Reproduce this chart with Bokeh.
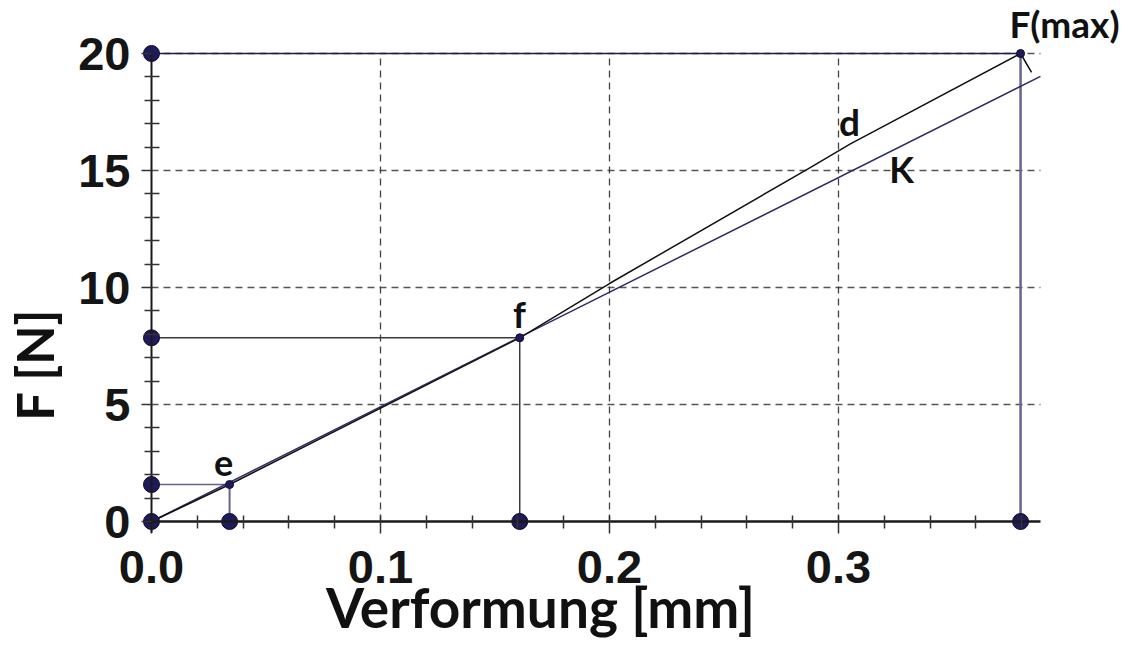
from bokeh.plotting import figure
from bokeh.models import LinearAxis, FixedTicker, PrintfTickFormatter, Range1d, Label
from bokeh.embed import file_html
from bokeh.resources import INLINE

# ---- data ----
x_major = [0.0, 0.1, 0.2, 0.3]
x_minor = [0.02, 0.04, 0.06, 0.08, 0.12, 0.14, 0.16, 0.18, 0.22, 0.24, 0.26, 0.28,
           0.32, 0.34, 0.36, 0.38]
y_major = [0, 5, 10, 15, 20]
y_minor = [1, 2, 3, 4, 6, 7, 8, 9, 11, 12, 13, 14, 16, 17, 18, 19]
x_axis_end = 0.3882

# measured curve d (deformation [mm], force [N])
d_x = [0.0, 0.0341, 0.1608, 0.2, 0.2869, 0.3052, 0.3795, 0.3843]
d_F = [0.0, 1.58, 7.85, 10.17, 15.08, 16.14, 20.0, 19.19]

# stiffness line K
k_x = [0.0, 0.3882]
k_F = [0.0, 19.02]

# marked points
pt_names = ["e", "f", "F(max)"]
pt_x = [0.0341, 0.1608, 0.3795]
pt_F = [1.58, 7.85, 20.0]
h_colors = ["#6b6190", "#3a3a3a", "#1c1850"]
v_colors = ["#6b6190", "#3a3a3a", "#6b6190"]
v_widths = [2, 1.5, 2.5]

W, H = 1122, 639
p = figure(width=W, height=H, output_backend="svg", toolbar_location=None,
           x_axis_location=None, y_axis_location=None, min_border=0,
           x_range=Range1d(-0.065939, 0.424017), y_range=Range1d(-5.0427, 22.265))
p.outline_line_color = None
p.grid.visible = False
p.background_fill_color = "white"

# grid (dashed), bounded by axis extents
p.segment(x0=[0.0] * (len(y_major) - 1), x1=[x_axis_end] * (len(y_major) - 1),
          y0=y_major[1:], y1=y_major[1:], line_color="#555555", line_width=1.3,
          line_dash="7 5")
p.segment(x0=x_major[1:], x1=x_major[1:], y0=[0] * (len(x_major) - 1),
          y1=[y_major[-1]] * (len(x_major) - 1), line_color="#444444", line_width=1.3,
          line_dash="7 5")

# projection lines
n = len(pt_x)
p.segment(x0=[0.0] * n, x1=pt_x, y0=pt_F, y1=pt_F, line_color=h_colors, line_width=1.6)
p.segment(x0=pt_x, x1=pt_x, y0=pt_F, y1=[0.0] * n, line_color=v_colors, line_width=v_widths)

# curves
p.line(k_x, k_F, line_color="#2e2a66", line_width=1.5)
p.line(d_x, d_F, line_color="#111111", line_width=1.5)

# axes with fixed location at 0
xaxis = LinearAxis(fixed_location=0, bounds=(-0.0035, x_axis_end),
                   ticker=FixedTicker(ticks=x_major, minor_ticks=x_minor),
                   formatter=PrintfTickFormatter(format="%.1f"))
xaxis.axis_line_color = "#1a1a1a"
xaxis.axis_line_width = 2.5
xaxis.major_tick_in = 6
xaxis.major_tick_out = 12
xaxis.minor_tick_in = 6
xaxis.minor_tick_out = 7
xaxis.major_tick_line_color = "#333333"
xaxis.minor_tick_line_color = "#333333"
xaxis.major_tick_line_width = 1.5
xaxis.minor_tick_line_width = 1.5
xaxis.major_label_text_font = "Liberation Sans"
xaxis.major_label_text_font_style = "bold"
xaxis.major_label_text_font_size = "47px"
xaxis.major_label_text_color = "#151515"
xaxis.major_label_standoff = 17
p.add_layout(xaxis, "below")

yaxis = LinearAxis(fixed_location=0, bounds=(-0.47, 20),
                   ticker=FixedTicker(ticks=y_major, minor_ticks=y_minor),
                   formatter=PrintfTickFormatter(format="%d"))
yaxis.axis_line_color = "#1a1a1a"
yaxis.axis_line_width = 2
yaxis.major_tick_in = 0
yaxis.major_tick_out = 10
yaxis.minor_tick_in = 8
yaxis.minor_tick_out = 7
yaxis.major_tick_line_color = "#333333"
yaxis.minor_tick_line_color = "#333333"
yaxis.major_tick_line_width = 1.5
yaxis.minor_tick_line_width = 1.5
yaxis.major_label_text_font = "Liberation Sans"
yaxis.major_label_text_font_style = "bold"
yaxis.major_label_text_font_size = "47px"
yaxis.major_label_text_color = "#151515"
yaxis.major_label_standoff = 11
p.add_layout(yaxis, "left")

# dots: big ones on the axes, small ones at the marked points
big_x = [0.0] + [0.0] * n + pt_x
big_F = [0.0] + pt_F + [0.0] * n
p.scatter(big_x, big_F, size=16, fill_color="#1f1a58", line_color="#0e0b33", line_width=1)
p.scatter(pt_x, pt_F, size=8, fill_color="#1f1a58", line_color="#0e0b33", line_width=1)

# text labels
lab_font = "Lato"
def add_label(text, sx, sy, size, align="center", baseline="alphabetic", angle=0.0):
    p.add_layout(Label(x=sx, y=sy, x_units="screen", y_units="screen", text=text,
                       text_font=lab_font, text_font_style="bold", text_font_size=size,
                       text_color="#111111", text_align=align, text_baseline=baseline,
                       angle=angle))

add_label(pt_names[0], 223, 177, "36px")
add_label(pt_names[1], 519, 326, "36px")
add_label(pt_names[2], 1064, 616, "37px")
add_label("d", 849, 518, "37px")
add_label("K", 901, 471, "36px")
add_label("F [N]", 34, 275, "51px", baseline="middle", angle=1.5708)
add_label("Verformung [mm]", 540, 33, "55px")

open("out.html", "w").write(file_html(p, INLINE))
